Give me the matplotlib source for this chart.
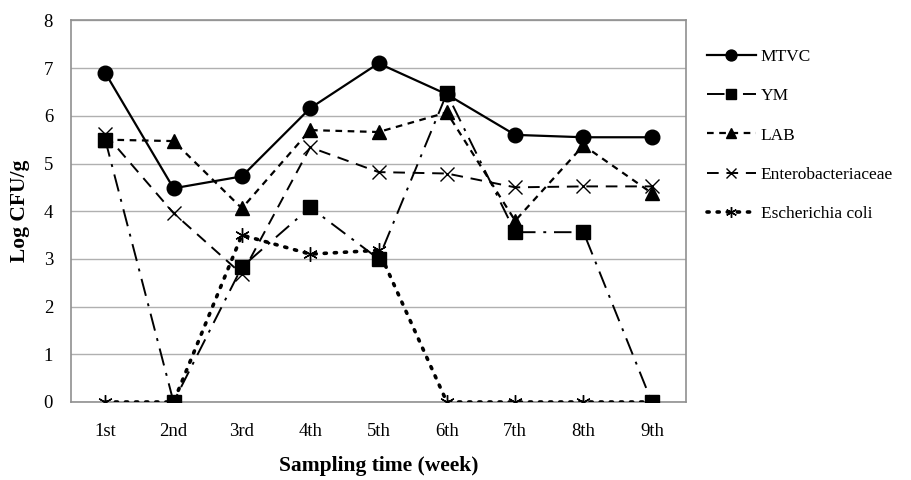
import matplotlib
matplotlib.use("Agg")
import matplotlib.pyplot as plt

plt.rcParams['font.family'] = ['Liberation Serif', 'DejaVu Serif']

weeks = ['1st', '2nd', '3rd', '4th', '5th', '6th', '7th', '8th', '9th']

mtvc = [6.9, 4.48, 4.73, 6.16, 7.1, 6.45, 5.6, 5.55, 5.55]
ym = [5.5, 0.0, 2.83, 4.08, 3.0, 6.47, 3.56, 3.56, 0.0]
lab = [5.5, 5.47, 4.06, 5.7, 5.66, 6.07, 3.8, 5.38, 4.38]
entero = [5.62, 3.96, 2.68, 5.34, 4.82, 4.79, 4.5, 4.52, 4.52]
ecoli = [0.0, 0.0, 3.5, 3.1, 3.18, 0.0, 0.0, 0.0, 0.0]

fig = plt.figure(figsize=(9.11, 4.8), dpi=100)
ax = fig.add_axes([0.078, 0.1625, 0.675, 0.795])

x = list(range(len(weeks)))

ax.plot(x, mtvc, color='black', linestyle='-', linewidth=1.6,
        marker='o', markersize=10.5, label='MTVC', zorder=5)
ax.plot(x, ym, color='black', linestyle=(0, (9, 4, 1.5, 4)), linewidth=1.4,
        marker='s', markersize=10, label='YM', zorder=4)
ax.plot(x, lab, color='black', linestyle=(0, (3, 2.5)), linewidth=1.6,
        marker='^', markersize=9.5, label='LAB', zorder=4)
ax.plot(x, entero, color='black', linestyle=(0, (6, 4)), linewidth=1.4,
        marker='x', markersize=9.5, markeredgewidth=1.0, label='Enterobacteriaceae', zorder=3)
ax.plot(x, ecoli, color='black', linestyle=(0, (0.6, 2.2)), linewidth=2.6,
        dash_capstyle='round',
        marker=(6, 2, 0), markersize=10.5, markeredgewidth=1.0,
        label='Escherichia coli', zorder=3)

ax.set_xlim(-0.5, len(weeks) - 0.5)
ax.set_ylim(0, 8)
ax.set_xticks(x)
ax.set_xticklabels(weeks)
ax.set_yticks(range(0, 9))
ax.tick_params(axis='both', length=0, labelsize=13.5, pad=13)
ax.tick_params(axis='x', pad=15)
ax.yaxis.grid(True, color='#b0b0b0', linewidth=1.0)
ax.set_axisbelow(True)
for sp in ax.spines.values():
    sp.set_color('#909090')
    sp.set_linewidth(1.2)

ax.set_xlabel('Sampling time (week)', fontsize=15.5, fontweight='bold', labelpad=12)
ax.set_ylabel('Log CFU/g', fontsize=15.5, fontweight='bold', labelpad=10)

fig.legend(loc='upper left', bbox_to_anchor=(0.759, 0.93), frameon=False,
           fontsize=12.5, labelspacing=1.32, handlelength=2.8, handletextpad=0.3,
           markerscale=0.75)

fig.savefig('out.png', dpi=100)
